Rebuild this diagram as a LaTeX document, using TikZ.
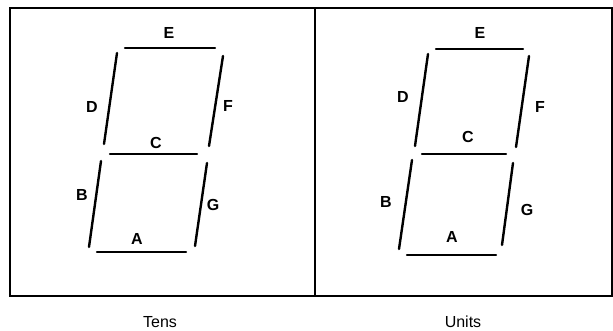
\documentclass[tikz,border=0pt]{standalone}
\usepackage{fontspec}
\setmainfont{Liberation Sans}
\begin{document}
\begin{tikzpicture}[x=1pt,y=-1pt,
  seg/.style={line width=2.4pt,line cap=round},
  frame/.style={line width=1.1pt},
  lbl/.style={font=\fontsize{16}{16}\selectfont\bfseries,inner sep=0pt},
  captxt/.style={font=\fontsize{16}{16}\selectfont,inner sep=0pt,anchor=base,text depth=0pt}]
\useasboundingbox (0,0) rectangle (613,331);
% frame
\draw[frame] (10,8) rectangle (612,296);
\draw[frame] (315,8) -- (315,296);
% Tens digit
\draw[seg] (125,48) -- (215,48);
\draw[seg] (117,53) -- (104,144);
\draw[seg] (223,56) -- (209,146);
\draw[seg] (110,154) -- (197,154);
\draw[seg] (101,161) -- (89,247);
\draw[seg] (207,163) -- (195,246);
\draw[seg] (97,252) -- (186,252);
\node[lbl] (tE) at (169,33) {E};
\node[lbl] (tD) at (92,107) {D};
\node[lbl] (tF) at (228,106) {F};
\node[lbl] (tC) at (156,143) {C};
\node[lbl] (tB) at (82,195) {B};
\node[lbl] (tG) at (213,205) {G};
\node[lbl] (tA) at (137,239) {A};
\node[captxt] (tens) at (160,327) {Tens};
% Units digit
\draw[seg] (436,49) -- (523,49);
\draw[seg] (428,54) -- (415,146);
\draw[seg] (529,56) -- (516,147);
\draw[seg] (422,154) -- (506,154);
\draw[seg] (412,160) -- (399,249);
\draw[seg] (513,163) -- (502,245);
\draw[seg] (407,255) -- (496,255);
\node[lbl] (uE) at (480,33) {E};
\node[lbl] (uD) at (403,97) {D};
\node[lbl] (uF) at (540,107) {F};
\node[lbl] (uC) at (468,137) {C};
\node[lbl] (uB) at (386,202) {B};
\node[lbl] (uG) at (527,210) {G};
\node[lbl] (uA) at (452,237) {A};
\node[captxt] (units) at (463,327) {Units};
\end{tikzpicture}
\end{document}
